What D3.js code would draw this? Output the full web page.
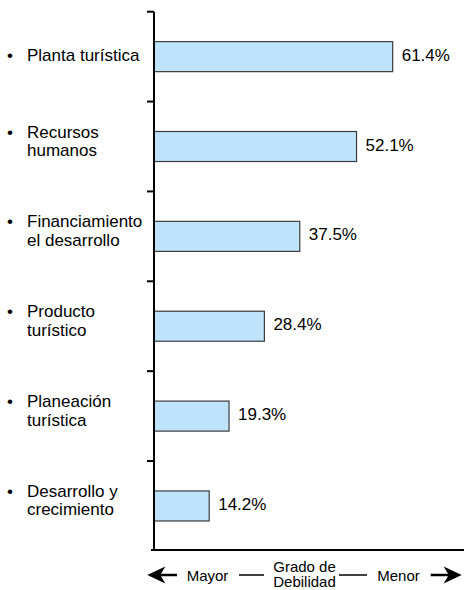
<!DOCTYPE html>
<html>
<head>
<meta charset="utf-8">
<script src="https://cdn.jsdelivr.net/npm/d3@7"></script>
<style>
  html, body { margin: 0; padding: 0; background: #fff; }
  svg { display: block; font-family: "Liberation Sans", Arial, sans-serif; }
</style>
</head>
<body>
<svg id="chart" width="464" height="590"></svg>
<script>
// Weakness factors, ordered from strongest to weakest
const categories = [
  ["Planta turística"],
  ["Recursos", "humanos"],
  ["Financiamiento", "el desarrollo"],
  ["Producto", "turístico"],
  ["Planeación", "turística"],
  ["Desarrollo y", "crecimiento"]
];
const values = [61.4, 52.1, 37.5, 28.4, 19.3, 14.2];
const scaleLabels = { left: "Mayor", middle: ["Grado de", "Debilidad"], right: "Menor" };

const keys = categories.map(c => c.join(" "));
const svg = d3.select("#chart");

const x = d3.scaleLinear().domain([0, 80]).range([154, 465]);
const y = d3.scaleBand()
  .domain(keys)
  .range([11.7, 550.9])
  .paddingInner(0.666)
  .paddingOuter(0.333);

const bandGap = y.step() * y.paddingInner() / 2;
const x0 = x(0);

// Bars
svg.append("g").selectAll("rect")
  .data(values)
  .join("rect")
  .attr("x", x0)
  .attr("y", (d, i) => y(keys[i]))
  .attr("width", d => x(d) - x0)
  .attr("height", y.bandwidth())
  .attr("fill", "#bfe3fb")
  .attr("stroke", "#3c3c3c")
  .attr("stroke-width", 1.2);

// Value labels
svg.append("g").selectAll("text")
  .data(values)
  .join("text")
  .attr("x", d => x(d) + 9)
  .attr("y", (d, i) => y(keys[i]) + y.bandwidth() / 2 + 4)
  .attr("font-size", 17)
  .attr("fill", "#000")
  .text(d => d3.format(".1f")(d) + "%");

// Vertical axis with ticks on the band boundaries
const tickYs = keys.map(k => y(k) - bandGap);
const axis = svg.append("g").attr("stroke", "#000");
axis.append("line")
  .attr("x1", x0).attr("x2", x0)
  .attr("y1", y.range()[0]).attr("y2", y.range()[1])
  .attr("stroke-width", 2);
axis.selectAll("line.tick")
  .data(tickYs)
  .join("line")
  .attr("class", "tick")
  .attr("x1", x0 - 7).attr("x2", x0)
  .attr("y1", d => d).attr("y2", d => d)
  .attr("stroke-width", 2);
axis.append("line")
  .attr("x1", x0 - 3).attr("x2", 464)
  .attr("y1", y.range()[1] - 1).attr("y2", y.range()[1] - 1)
  .attr("stroke-width", 2);

// Category labels with bullets
const labels = svg.append("g").attr("font-size", 17).attr("fill", "#000");
categories.forEach((lines, i) => {
  const cy = y(keys[i]) + y.bandwidth() / 2;
  const first = lines.length === 1 ? cy + 4.5 : cy - 9;
  labels.append("text")
    .attr("x", 7).attr("y", first)
    .text("•");
  lines.forEach((t, j) => {
    labels.append("text")
      .attr("x", 27).attr("y", first + j * 18.5)
      .text(t);
  });
});

// Scale legend: arrows pointing from "Mayor" to "Menor"
const legend = svg.append("g");
const ay = 575;
function arrowHead(tipX, dir) {
  const pts = [
    [tipX, ay],
    [tipX + dir * 18, ay - 8.5],
    [tipX + dir * 13, ay],
    [tipX + dir * 18, ay + 8.5]
  ];
  legend.append("path")
    .attr("d", d3.line()(pts) + "Z")
    .attr("fill", "#000");
}
arrowHead(147.3, 1);
arrowHead(461.7, -1);
const segs = [[158, 177], [239, 264], [339, 367], [430.7, 450]];
legend.selectAll("line")
  .data(segs)
  .join("line")
  .attr("x1", d => d[0]).attr("x2", d => d[1])
  .attr("y1", ay).attr("y2", ay)
  .attr("stroke", "#000")
  .attr("stroke-width", (d, i) => (i === 0 || i === 3) ? 2.5 : 1.5);

legend.append("text")
  .attr("x", 207.5).attr("y", 580.5)
  .attr("text-anchor", "middle").attr("font-size", 15)
  .text(scaleLabels.left);
legend.append("text")
  .attr("x", 398.5).attr("y", 580.5)
  .attr("text-anchor", "middle").attr("font-size", 15)
  .text(scaleLabels.right);
scaleLabels.middle.forEach((t, j) => {
  legend.append("text")
    .attr("x", 304.5).attr("y", 571.5 + j * 15.5)
    .attr("text-anchor", "middle").attr("font-size", 15)
    .text(t);
});
</script>
</body>
</html>
